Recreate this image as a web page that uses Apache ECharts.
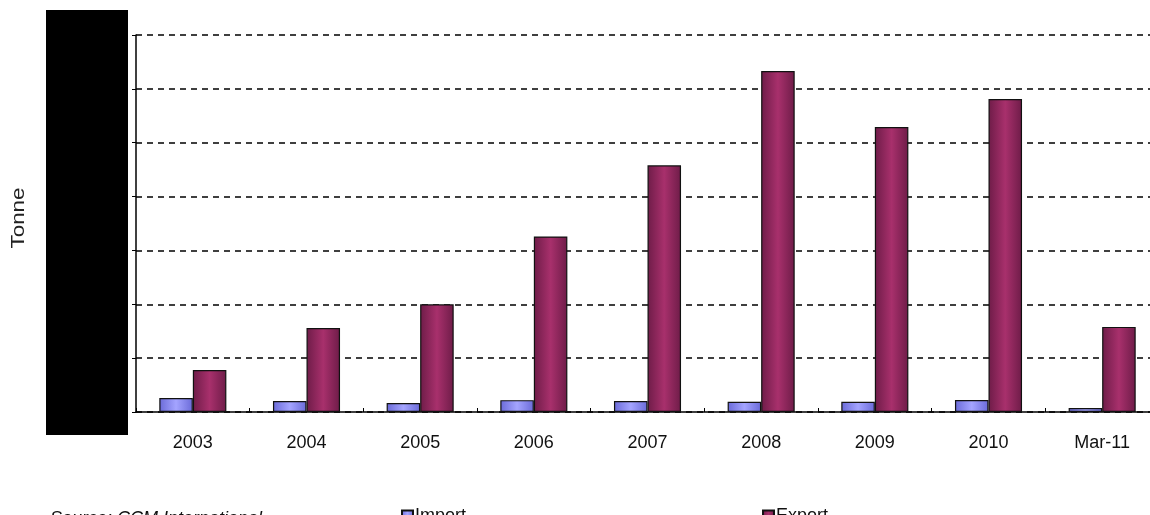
<!DOCTYPE html>
<html>
<head>
<meta charset="utf-8">
<script src="https://cdn.jsdelivr.net/npm/echarts@6/dist/echarts.min.js"></script>
<style>
html,body{margin:0;padding:0;background:#fff;overflow:hidden;}
#chart{width:1160px;height:515px;}
</style>
</head>
<body>
<div id="chart"></div>
<script>
const categories = ['2003','2004','2005','2006','2007','2008','2009','2010','Mar-11'];
const importValues = [1300, 1020, 840, 1100, 1020, 950, 950, 1110, 370];
const exportValues = [3900, 7800, 10000, 16300, 22900, 31650, 26450, 29050, 7900];
const yMin = 0, yMax = 35000, yInterval = 5000;

const chart = echarts.init(document.getElementById('chart'));
const grad = (edge, mid) => ({
  type: 'linear', x: 0, y: 0, x2: 1, y2: 0,
  colorStops: [
    {offset: 0, color: edge},
    {offset: 0.5, color: mid},
    {offset: 1, color: edge}
  ]
});
chart.setOption({
  animation: false,
  backgroundColor: '#fff',
  grid: {left: 136, top: 35, width: 1023, height: 377, containLabel: false},
  xAxis: {
    type: 'category',
    data: categories,
    axisLine: {lineStyle: {color: '#000', width: 1.5}},
    axisTick: {show: true, inside: true, length: 4, lineStyle: {color: '#000'}},
    axisLabel: {color: '#111', fontFamily: 'Liberation Sans, Arial', fontSize: 18, margin: 22}
  },
  yAxis: {
    type: 'value', min: yMin, max: yMax, interval: yInterval,
    axisLine: {show: true, lineStyle: {color: '#000', width: 1.5}},
    axisTick: {show: true, length: 4, lineStyle: {color: '#000'}},
    axisLabel: {color: '#000', fontSize: 14},
    splitLine: {show: true, lineStyle: {color: '#000', width: 1.5, type: [6, 5]}}
  },
  legend: {
    data: ['Import', 'Export'],
    left: 396, top: 502,
    icon: 'rect', itemWidth: 11, itemHeight: 11, itemGap: 296,
    textStyle: {color: '#111', fontFamily: 'Liberation Sans, Arial', fontSize: 18, padding: [0,0,0,-3]}
  },
  series: [
    {
      name: 'Import', type: 'bar', data: importValues,
      barGap: '0%', barCategoryGap: '41%',
      itemStyle: {color: grad('#6a6ad8', '#a4a4ff'), borderColor: '#111', borderWidth: 1.2}
    },
    {
      name: 'Export', type: 'bar', data: exportValues,
      itemStyle: {color: grad('#6e1c48', '#a8306c'), borderColor: '#111', borderWidth: 1.2}
    }
  ],
  graphic: [
    {type: 'rect', left: 46, top: 10, shape: {width: 82, height: 425}, style: {fill: '#000'}, z: 100},
    {type: 'text', x: 19, y: 218, rotation: Math.PI / 2, scaleX: 1.18,
     style: {text: 'Tonne', fill: '#222', font: '19px Liberation Sans, Arial', align: 'center', verticalAlign: 'middle'}, z: 100},
    {type: 'text', left: 50, top: 510, style: {text: 'Source: CCM International', fill: '#111', font: 'italic 18px Liberation Sans, Arial'}, z: 100}
  ]
});
</script>
</body>
</html>
